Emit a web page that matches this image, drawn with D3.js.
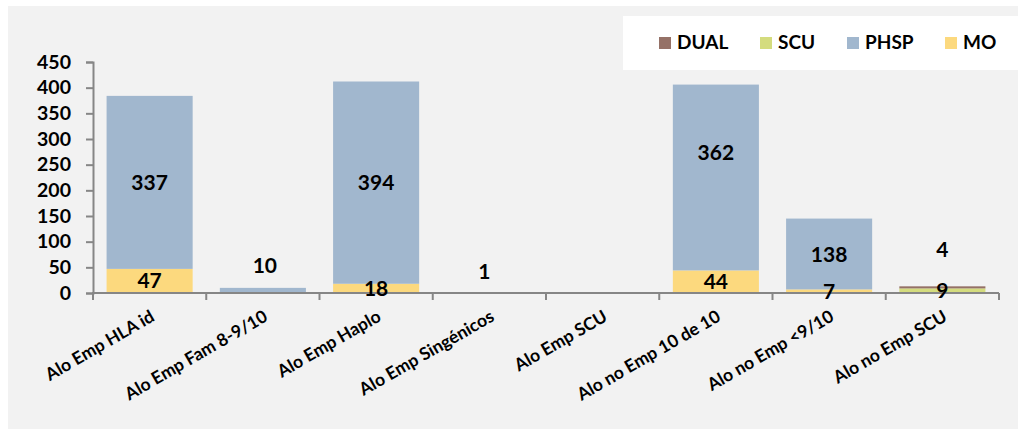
<!DOCTYPE html>
<html>
<head>
<meta charset="utf-8">
<script src="https://cdn.jsdelivr.net/npm/d3@7"></script>
<style>
  html, body { margin: 0; padding: 0; background: #ffffff; }
  svg { display: block; }
  text { font-family: Lato, "Open Sans", sans-serif; font-weight: bold; fill: #000; }
</style>
</head>
<body>
<svg id="chart" width="1018" height="429"></svg>
<script>
// ---- data ----
const categories = ["Alo Emp HLA id", "Alo Emp Fam 8-9/10", "Alo Emp Haplo", "Alo Emp Singénicos",
                    "Alo Emp SCU", "Alo no Emp 10 de 10", "Alo no Emp <9/10", "Alo no Emp SCU"];
const seriesNames = ["MO", "PHSP", "SCU", "DUAL"];
const MO   = [47, 0, 18, 0, 0, 44, 7, 0];
const PHSP = [337, 10, 394, 1, 0, 362, 138, 0];
const SCU  = [0, 0, 0, 0, 0, 0, 0, 9];
const DUAL = [0, 0, 0, 0, 0, 0, 0, 4];
const yTicks = [0, 50, 100, 150, 200, 250, 300, 350, 400, 450];
const legendOrder = ["DUAL", "SCU", "PHSP", "MO"];

// ---- styling ----
const colors = { MO: "#fcd97e", PHSP: "#a1b7ce", SCU: "#d4dc7e", DUAL: "#957167" };
// label nudges [dx, dy] in px, for labels the original moved off-centre
const labelNudge = {
  "Alo Emp Fam 8-9/10|PHSP": [2, -25],
  "Alo Emp Singénicos|PHSP": [-5, -21],
  "Alo no Emp 10 de 10|PHSP": [0, -25],
  "Alo no Emp SCU|DUAL": [0, -38]
};

const svg = d3.select("#chart");
svg.append("rect").attr("x", 8).attr("y", 6).attr("width", 1010).attr("height", 423).attr("fill", "#f2f2f2");

const rows = categories.map((c, i) => ({ cat: c, MO: MO[i], PHSP: PHSP[i], SCU: SCU[i], DUAL: DUAL[i] }));
const stack = d3.stack().keys(seriesNames)(rows);

const x = d3.scaleBand().domain(categories).range([93, 999]).paddingInner(0.24).paddingOuter(0.12);
const y = d3.scaleLinear().domain([0, 450]).range([293, 62]);

// bars
const g = svg.append("g");
stack.forEach(layer => {
  g.selectAll(null).data(layer.filter(d => d[1] - d[0] > 0)).enter().append("rect")
    .attr("x", d => x(d.data.cat))
    .attr("width", x.bandwidth())
    .attr("y", d => y(d[1]))
    .attr("height", d => y(d[0]) - y(d[1]))
    .attr("fill", colors[layer.key]);
});

// y axis
const yAxis = svg.append("g").attr("transform", "translate(93,0)")
  .call(d3.axisLeft(y).tickValues(yTicks).tickSize(7).tickPadding(15));
yAxis.select(".domain").attr("stroke", "#868686").attr("stroke-width", 2);
yAxis.selectAll(".tick line").attr("stroke", "#868686").attr("stroke-width", 2);
yAxis.selectAll(".tick text").style("font-family", "Lato, sans-serif").style("font-weight", "bold")
  .style("font-size", "19.5px").attr("fill", "#000");

// x axis line + boundary ticks
const x0 = x.range()[0], step = x.step();
svg.append("line").attr("x1", x0 - 1).attr("x2", x.range()[1]).attr("y1", y(0)).attr("y2", y(0))
  .attr("stroke", "#868686").attr("stroke-width", 2);
d3.range(categories.length + 1).forEach(i => {
  svg.append("line").attr("x1", x0 + i * step).attr("x2", x0 + i * step)
    .attr("y1", y(0)).attr("y2", y(0) + 7).attr("stroke", "#868686").attr("stroke-width", 2);
});

// category labels
categories.forEach(c => {
  const cx = x(c) + x.bandwidth() / 2;
  svg.append("text").attr("transform", `translate(${cx + 6},${y(0) + 27}) rotate(-30)`)
    .attr("text-anchor", "end").style("font-size", "17.5px").text(c);
});

// data labels
stack.forEach(layer => {
  layer.forEach(d => {
    const v = d[1] - d[0];
    if (v <= 0) return;
    const nudge = labelNudge[d.data.cat + "|" + layer.key] || [0, 0];
    svg.append("text")
      .attr("x", x(d.data.cat) + x.bandwidth() / 2 + nudge[0])
      .attr("y", y((d[0] + d[1]) / 2) + nudge[1])
      .attr("dy", "0.36em")
      .attr("text-anchor", "middle")
      .style("font-size", "21px")
      .text(v);
  });
});

// legend
svg.append("rect").attr("x", 623).attr("y", 16).attr("width", 395).attr("height", 54).attr("fill", "#ffffff");
const legendX = [659, 760, 847, 945];
legendOrder.forEach((k, i) => {
  svg.append("rect").attr("x", legendX[i]).attr("y", 37).attr("width", 12).attr("height", 12).attr("fill", colors[k]);
  svg.append("text").attr("x", legendX[i] + 18).attr("y", 49).style("font-size", "19px").text(k);
});
</script>
</body>
</html>
